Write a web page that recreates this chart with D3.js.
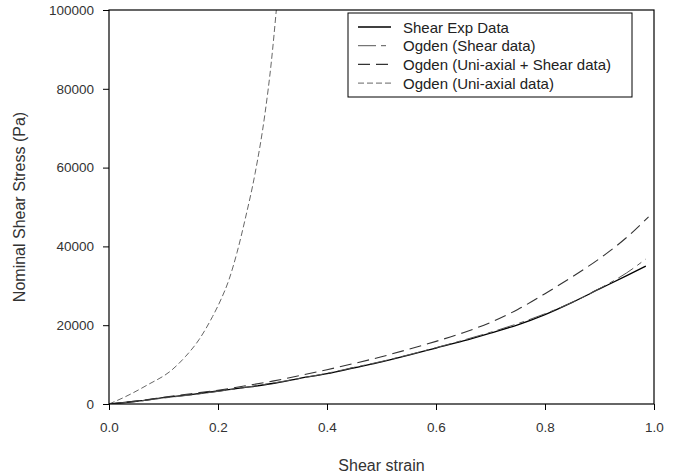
<!DOCTYPE html>
<html>
<head>
<meta charset="utf-8">
<script src="https://cdn.jsdelivr.net/npm/d3@7"></script>
<style>
body { margin: 0; background: #fff; }
text { font-family: "Liberation Sans", Arial, sans-serif; }
</style>
</head>
<body>
<svg id="chart" width="691" height="475"></svg>
<script>
var xTicks = [0, 0.2, 0.4, 0.6, 0.8, 1.0];
var yTicks = [0, 20000, 40000, 60000, 80000, 100000];

// [strain, stress]
var expData = [[0,0],[0.05,700],[0.1,1600],[0.15,2400],[0.2,3300],[0.25,4200],[0.3,5200],[0.35,6500],[0.4,7700],[0.45,9200],[0.5,10700],[0.55,12400],[0.6,14200],[0.65,16000],[0.7,18000],[0.75,20100],[0.8,22700],[0.85,25800],[0.9,29200],[0.95,32600],[0.985,35000]];
var ogdenShear = [[0,0],[0.05,650],[0.1,1500],[0.15,2300],[0.2,3200],[0.25,4200],[0.3,5300],[0.35,6500],[0.4,7800],[0.45,9300],[0.5,10800],[0.55,12500],[0.6,14300],[0.65,16200],[0.7,18200],[0.75,20400],[0.8,22900],[0.85,25800],[0.9,29300],[0.95,33300],[0.985,36800]];
var ogdenBoth = [[0,0],[0.05,750],[0.1,1700],[0.15,2600],[0.2,3500],[0.25,4600],[0.3,5800],[0.35,7200],[0.4,8700],[0.45,10300],[0.5,12000],[0.55,13900],[0.6,15900],[0.65,18100],[0.7,20700],[0.75,24000],[0.8,28000],[0.85,32300],[0.9,36900],[0.95,42300],[0.99,47500]];
var ogdenUni = [[0,0],[0.03,1850],[0.07,4800],[0.115,8600],[0.14,12000],[0.165,16300],[0.19,22200],[0.205,26400],[0.22,31500],[0.235,38500],[0.25,47000],[0.268,58500],[0.286,73500],[0.298,87000],[0.307,100000]];

var seriesNames = ["Shear Exp Data", "Ogden (Shear data)", "Ogden (Uni-axial + Shear data)", "Ogden (Uni-axial data)"];
var seriesData = [expData, ogdenShear, ogdenBoth, ogdenUni];
var seriesStyle = [
  {color: "#000", width: 1.3, dash: null},
  {color: "#555", width: 1, dash: "18,5,5,5"},
  {color: "#333", width: 1.1, dash: "12,6"},
  {color: "#666", width: 1, dash: "6,3"}
];

var svg = d3.select("#chart");
var plotL = 109, plotR = 654, plotT = 10, plotB = 404;

var x = d3.scaleLinear().domain([0, 1]).range([plotL, plotR]);
var y = d3.scaleLinear().domain([0, 100000]).range([plotB, plotT]);

svg.append("defs").append("clipPath").attr("id", "clip")
  .append("rect").attr("x", plotL).attr("y", plotT).attr("width", plotR - plotL).attr("height", plotB - plotT);

var line = d3.line()
  .x(function(d) { return x(d[0]); })
  .y(function(d) { return y(d[1]); })
  .curve(d3.curveMonotoneX);

var g = svg.append("g").attr("clip-path", "url(#clip)");
seriesData.forEach(function(data, i) {
  var s = seriesStyle[i];
  g.append("path")
    .attr("d", line(data))
    .attr("fill", "none")
    .attr("stroke", s.color)
    .attr("stroke-width", s.width)
    .attr("stroke-dasharray", s.dash);
});

// frame
svg.append("rect")
  .attr("x", plotL).attr("y", plotT)
  .attr("width", plotR - plotL).attr("height", plotB - plotT)
  .attr("fill", "none").attr("stroke", "#000").attr("stroke-width", 1.2);

var xAxis = svg.append("g").attr("transform", "translate(0," + plotB + ")")
  .call(d3.axisBottom(x).tickValues(xTicks).tickFormat(d3.format(".1f")).tickSize(6).tickPadding(12));
var yAxis = svg.append("g").attr("transform", "translate(" + plotL + ",0)")
  .call(d3.axisLeft(y).tickValues(yTicks).tickFormat(d3.format("d")).tickSize(6).tickPadding(9));

[xAxis, yAxis].forEach(function(a) {
  a.select(".domain").remove();
  a.selectAll("line").attr("stroke", "#000");
  a.selectAll("text").attr("fill", "#333").style("font-size", "13.5px")
    .style("font-family", "'Liberation Sans', Arial, sans-serif");
});

svg.append("text")
  .attr("x", (plotL + plotR) / 2).attr("y", 471)
  .attr("text-anchor", "middle").attr("fill", "#333")
  .style("font-size", "16px").text("Shear strain");

svg.append("text")
  .attr("transform", "translate(25," + (plotT + plotB) / 2 + ") rotate(-90)")
  .attr("text-anchor", "middle").attr("fill", "#333")
  .style("font-size", "16px").text("Nominal Shear Stress (Pa)");

// legend
var lg = svg.append("g");
lg.append("rect").attr("x", 348).attr("y", 13).attr("width", 284).attr("height", 84)
  .attr("fill", "#fff").attr("stroke", "#000").attr("stroke-width", 1);
seriesNames.forEach(function(name, i) {
  var ry = 27 + i * 18.7;
  var s = seriesStyle[i];
  lg.append("line").attr("x1", 358).attr("x2", 391).attr("y1", ry).attr("y2", ry)
    .attr("stroke", s.color).attr("stroke-width", s.width).attr("stroke-dasharray", s.dash);
  lg.append("text").attr("x", 403).attr("y", ry + 5.5).attr("fill", "#222")
    .style("font-size", "15px").text(name);
});
</script>
</body>
</html>
